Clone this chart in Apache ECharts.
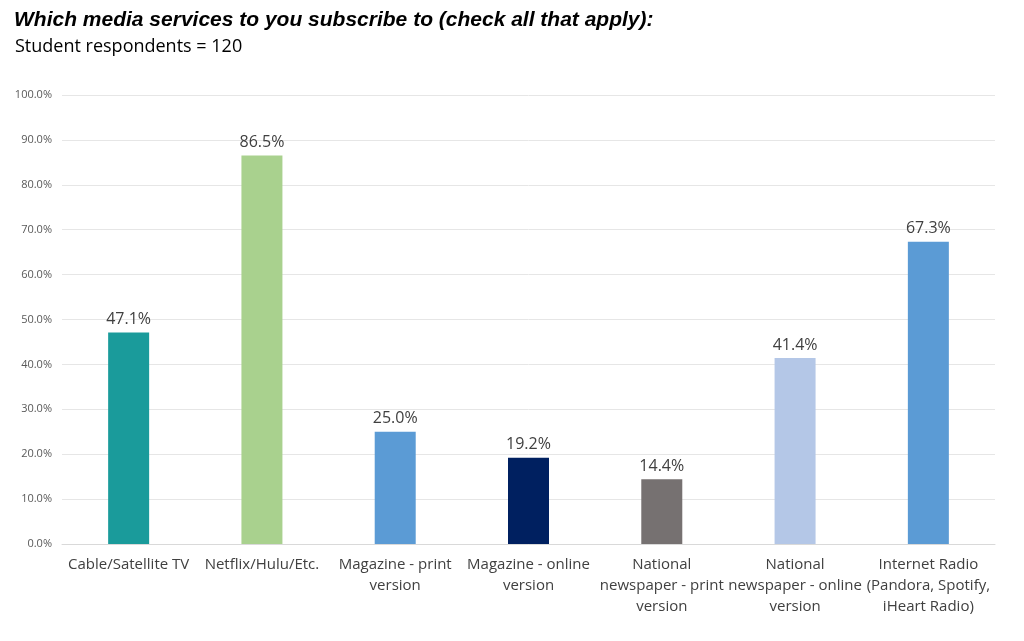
<!DOCTYPE html>
<html lang="en">
<head>
    <meta charset="UTF-8">
    <title>Media services</title>
    <style>
        *{ padding:0; margin:0; }
        html, body{ width:100%; height:100%; background:#fff; }
        #main{ width:1024px; height:641px; }
    </style>
    <script src="https://cdn.jsdelivr.net/npm/echarts@6/dist/echarts.min.js"></script>
</head>
<body>
<div id="main"></div>
<script>
    var categories = [
        'Cable/Satellite TV',
        'Netflix/Hulu/Etc.',
        'Magazine - print\nversion',
        'Magazine - online\nversion',
        'National\nnewspaper - print\nversion',
        'National\nnewspaper - online\nversion',
        'Internet Radio\n(Pandora, Spotify,\niHeart Radio)'
    ];
    var values = [47.1, 86.5, 25.0, 19.2, 14.4, 41.4, 67.3];
    var barColors = ['#1a9b9b', '#a9d18e', '#5b9bd5', '#002060', '#767171', '#b4c7e7', '#5b9bd5'];

    var myChart = echarts.init(document.getElementById('main'));
    var font = '"Open Sans", "Liberation Sans", sans-serif';

    var option = {
        backgroundColor: '#fff',
        animation: false,
        title: [{
            text: 'Which media services to you subscribe to (check all that apply):',
            left: 9,
            top: 5,
            textStyle: {
                fontFamily: '"Liberation Sans", Arial, sans-serif',
                fontStyle: 'italic',
                fontWeight: 'bold',
                fontSize: 21,
                color: '#000'
            }
        }, {
            text: 'Student respondents = 120',
            left: 10,
            top: 33,
            textStyle: {
                fontFamily: font,
                fontWeight: 'normal',
                fontSize: 18,
                color: '#000'
            }
        }],
        grid: {
            left: 62,
            right: 29,
            top: 95,
            bottom: 97
        },
        xAxis: {
            type: 'category',
            data: categories,
            axisLine: { lineStyle: { color: '#d9d9d9' } },
            axisTick: { show: false },
            axisLabel: {
                interval: 0,
                fontFamily: font,
                fontSize: 15,
                lineHeight: 21,
                color: '#404040',
                margin: 10
            }
        },
        yAxis: {
            type: 'value',
            min: 0,
            max: 100,
            interval: 10,
            axisLine: { show: false },
            axisTick: { show: false },
            splitLine: { lineStyle: { color: '#e6e6e6' } },
            axisLabel: {
                fontFamily: font,
                fontSize: 11,
                color: '#595959',
                margin: 10,
                formatter: function (v) { return v.toFixed(1) + '%'; }
            }
        },
        series: [{
            type: 'bar',
            barWidth: 41,
            data: values.map(function (v, i) {
                return { value: v, itemStyle: { color: barColors[i] } };
            }),
            label: {
                show: true,
                position: 'top',
                distance: 5,
                fontFamily: font,
                fontSize: 16,
                color: '#404040',
                formatter: function (p) { return p.value.toFixed(1) + '%'; }
            }
        }]
    };
    myChart.setOption(option);
</script>
</body>
</html>
